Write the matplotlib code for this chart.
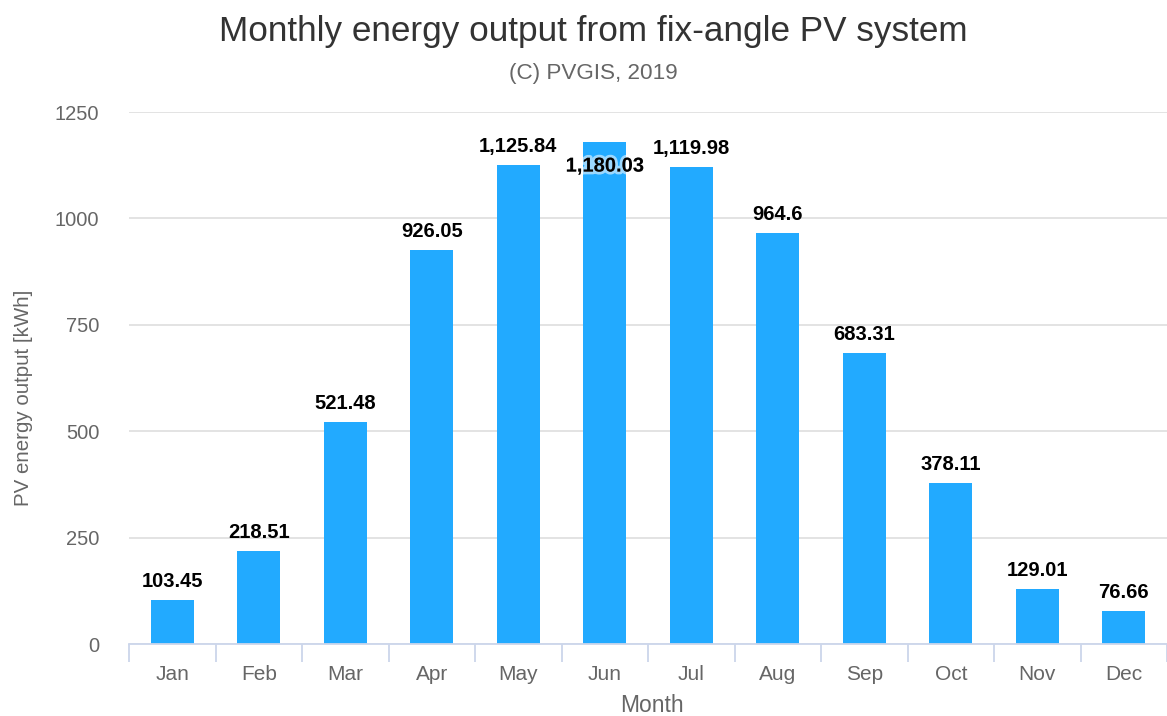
import matplotlib
matplotlib.use("Agg")
import matplotlib.pyplot as plt
import matplotlib.patheffects as pe
import numpy as np

months = ["Jan", "Feb", "Mar", "Apr", "May", "Jun", "Jul", "Aug", "Sep", "Oct", "Nov", "Dec"]
energy = [103.45, 218.51, 521.48, 926.05, 1125.84, 1180.03, 1119.98, 964.6, 683.31, 378.11, 129.01, 76.66]
yticks = [0, 250, 500, 750, 1000, 1250]

plt.rcParams['font.family'] = ['Liberation Sans', 'DejaVu Sans']

W, H = 1167, 716
fig = plt.figure(figsize=(W / 100, H / 100), dpi=100)
ax = fig.add_axes([129 / W, 1 - 644 / H, (1167 - 129) / W, (644 - 112) / H])

x = np.arange(len(months))
bar_color = "#22aaff"
ax.bar(x, energy, width=0.5, color=bar_color, zorder=3)

ax.set_xlim(-0.5, len(months) - 0.5)
ax.set_ylim(0, 1250)

# grid
ax.set_yticks(yticks)
ax.set_yticklabels([str(t) for t in yticks])
ax.yaxis.grid(True, color="#e0e0e0", linewidth=1.3, zorder=0)
ax.tick_params(axis="y", length=0, pad=21.5, labelsize=14.5, labelcolor="#666666")

# x axis: boundary ticks major, labels minor
ax.set_xticks(np.arange(-0.5, len(months), 1.0))
ax.set_xticklabels([])
ax.set_xticks(x, minor=True)
ax.set_xticklabels(months, minor=True)
ax.tick_params(axis="x", which="major", length=13, width=1.3, color="#ccd6eb", direction="out")
ax.tick_params(axis="x", which="minor", length=0, pad=15, labelsize=15, labelcolor="#666666")

for s in ["top", "right", "left"]:
    ax.spines[s].set_visible(False)
ax.spines["bottom"].set_color("#ccd6eb")
ax.spines["bottom"].set_linewidth(1.3)
ax.spines["bottom"].set_zorder(4)

# data labels (label moved inside the bar when it would not fit above)
for xi, v in zip(x, energy):
    label = f"{v:,}"
    if v + 80 > 1250:
        t = ax.annotate(label, (xi, v), xytext=(0, -17.5), textcoords="offset points",
                        ha="center", va="center", fontsize=14.5, fontweight="bold",
                        color="black", zorder=5)
        t.set_path_effects([pe.withStroke(linewidth=4, foreground=(1, 1, 1, 0.55))])
    else:
        ax.annotate(label, (xi, v), xytext=(0, 13.5), textcoords="offset points",
                    ha="center", va="center", fontsize=14.5, fontweight="bold",
                    color="black", zorder=5)

fig.text(24 / W, 1 - 398 / H, "PV energy output [kWh]", rotation=90,
         ha="center", va="center", fontsize=14.8, color="#666666")
fig.text(652 / W, 1 - 706 / H, "Month", ha="center", va="center",
         fontsize=16.5, color="#666666")

fig.text(593 / W, 1 - 32 / H, "Monthly energy output from fix-angle PV system",
         ha="center", va="center", fontsize=25.3, color="#333333")
fig.text(593 / W, 1 - 74 / H, "(C) PVGIS, 2019", ha="center", va="center",
         fontsize=16.2, color="#666666")

fig.savefig("out.png", dpi=100)
